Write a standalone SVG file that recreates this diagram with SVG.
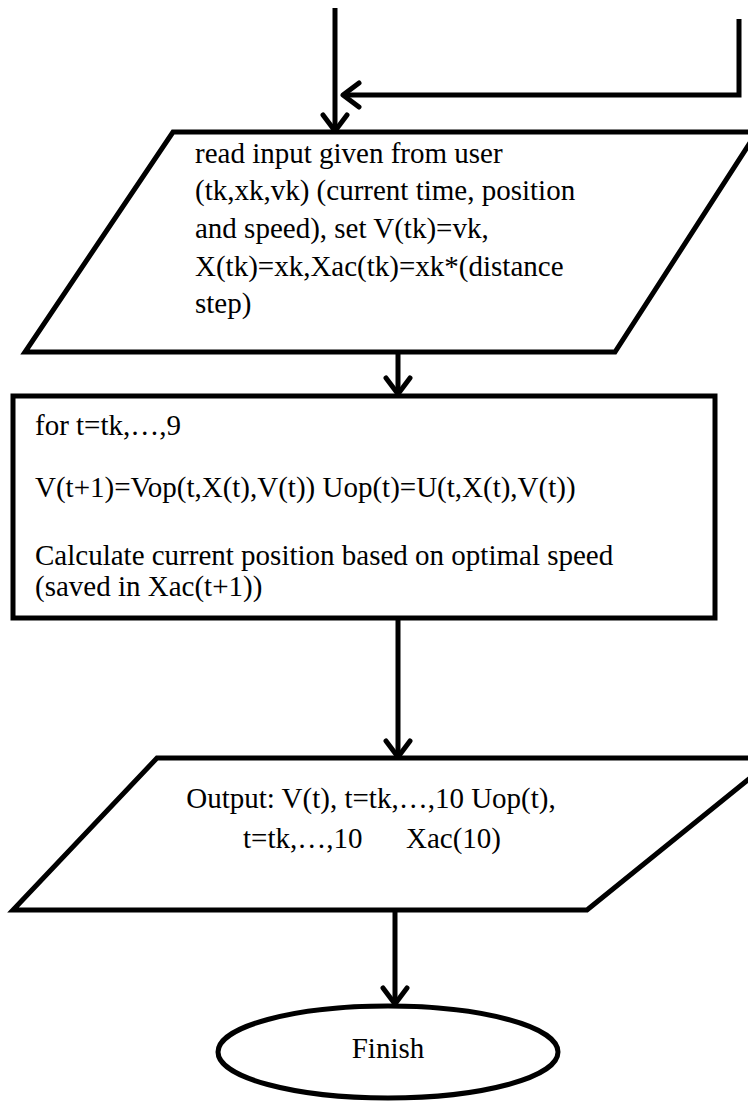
<svg xmlns="http://www.w3.org/2000/svg" width="748" height="1101" viewBox="0 0 748 1101">
  <style>
    .shape { fill: #ffffff; stroke: #000000; stroke-width: 5; stroke-linejoin: miter; }
    .wire { fill: none; stroke: #000000; stroke-width: 5; }
    .label { font-family: "Liberation Serif", "Times New Roman", serif; font-size: 29px; fill: #000000; }
    .mid { text-anchor: middle; }
  </style>
  <defs>
    <marker id="chevron" markerUnits="userSpaceOnUse" markerWidth="40" markerHeight="40" refX="21" refY="16" orient="auto" overflow="visible">
      <path d="M5,4 L21,16 L5,28" fill="none" stroke="#000000" stroke-width="5" stroke-linecap="round" stroke-linejoin="round"/>
    </marker>
  </defs>
  <rect width="748" height="1101" fill="#ffffff"/>

  <!-- input parallelogram -->
  <g id="read-input">
    <polygon class="shape" points="173,132 757,132 615,352 25,352"/>
    <text class="label" x="195" y="163">read input given from user</text>
    <text class="label" x="195" y="200">(tk,xk,vk) (current time, position</text>
    <text class="label" x="195" y="238">and speed), set V(tk)=vk,</text>
    <text class="label" x="195" y="276">X(tk)=xk,Xac(tk)=xk*(distance</text>
    <text class="label" x="195" y="313">step)</text>
  </g>

  <!-- loop body -->
  <g id="loop">
    <rect class="shape" x="13" y="396" width="702" height="222"/>
    <text class="label" x="35" y="435">for t=tk,…,9</text>
    <text class="label" x="35" y="497">V(t+1)=Vop(t,X(t),V(t)) Uop(t)=U(t,X(t),V(t))</text>
    <text class="label" x="35" y="565">Calculate current position based on optimal speed</text>
    <text class="label" x="35" y="596">(saved in Xac(t+1))</text>
  </g>

  <!-- output parallelogram -->
  <g id="output">
    <polygon class="shape" points="157,758 775,758 587,910 13,910"/>
    <text class="label mid" x="371" y="808">Output: V(t), t=tk,…,10 Uop(t),</text>
    <text class="label mid" x="372" y="848" xml:space="preserve">t=tk,…,10      Xac(10)</text>
  </g>

  <!-- terminator -->
  <g id="finish">
    <ellipse class="shape" cx="388" cy="1052" rx="170" ry="46"/>
    <text class="label mid" x="388" y="1058">Finish</text>
  </g>

  <!-- connectors -->
  <g id="connectors">
    <path class="wire" d="M335,8 V131" marker-end="url(#chevron)"/>
    <path class="wire" d="M739,19 V95 H343" marker-end="url(#chevron)"/>
    <path class="wire" d="M398,352 V394" marker-end="url(#chevron)"/>
    <path class="wire" d="M398,618 V757" marker-end="url(#chevron)"/>
    <path class="wire" d="M395,910 V1004" marker-end="url(#chevron)"/>
  </g>
</svg>
